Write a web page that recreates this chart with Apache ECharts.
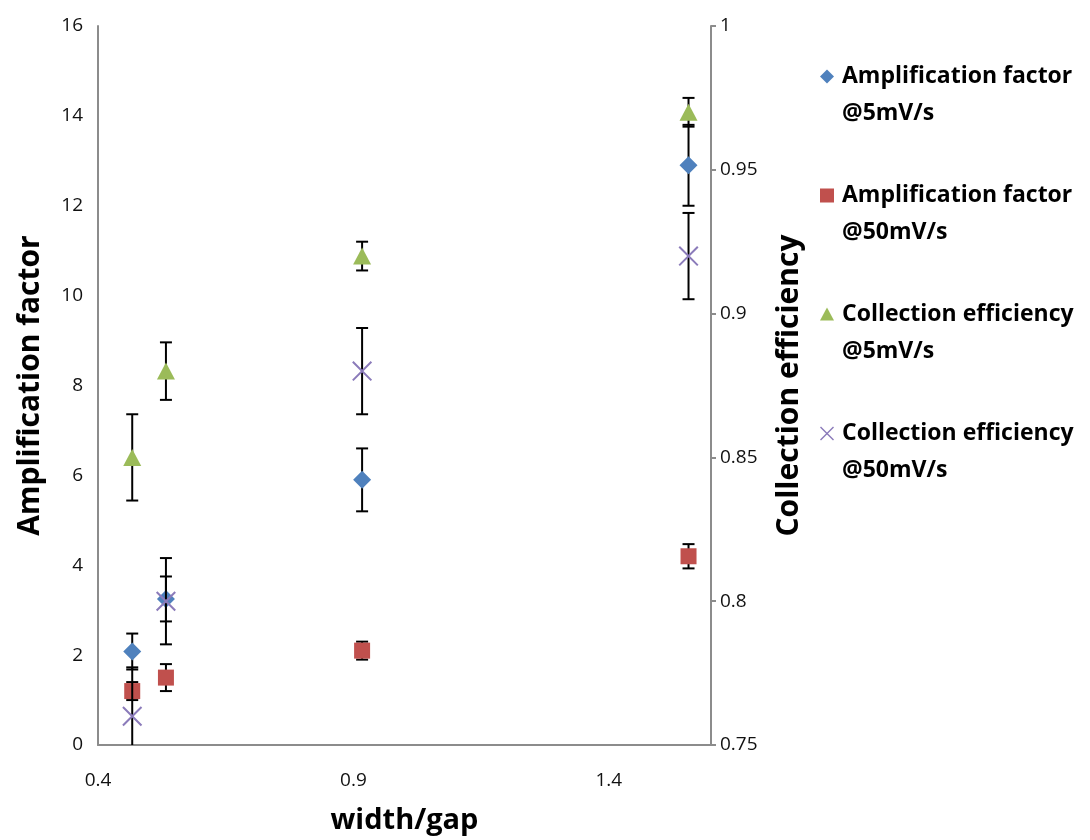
<!DOCTYPE html>
<html>
<head>
<meta charset="utf-8">
<script src="https://cdn.jsdelivr.net/npm/echarts@6/dist/echarts.min.js"></script>
<style>
  html, body { margin: 0; padding: 0; background: #fff; }
  #chart { width: 1090px; height: 840px; }
</style>
</head>
<body>
<div id="chart"></div>
<script>
// width/gap ratios of the electrode geometries
const widthGap = [0.467, 0.533, 0.917, 1.556];

// Amplification factor (left axis) with standard deviations
const amp5 = [2.08, 3.25, 5.9, 12.9];
const amp5Err = [0.4, 0.5, 0.7, 0.9];
const amp50 = [1.2, 1.5, 2.1, 4.2];
const amp50Err = [0.2, 0.3, 0.2, 0.27];

// Collection efficiency (right axis) with standard deviations
const ce5 = [0.85, 0.88, 0.92, 0.97];
const ce5Err = [0.015, 0.01, 0.005, 0.005];
const ce50 = [0.76, 0.80, 0.88, 0.92];
const ce50Err = [0.017, 0.015, 0.015, 0.015];

const seriesNames = [
  'Amplification factor\n@5mV/s',
  'Amplification factor\n@50mV/s',
  'Collection efficiency\n@5mV/s',
  'Collection efficiency\n@50mV/s'
];
const colors = ['#4F81BD', '#C0504D', '#9BBB59', '#8B7BBA'];

const FONT = '"Open Sans", Lato, sans-serif';

// marker outlines (unit boxes)
const shapes = {
  diamond: 'M7,0 L14,7 L7,14 L0,7 Z',
  square: 'M0,0 L14,0 L14,14 L0,14 Z',
  triangle: 'M7,0 L14,13 L0,13 Z',
  cross: 'M0,1 L1,0 L14,13 L13,14 Z M13,0 L14,1 L1,14 L0,13 Z'
};
// legend icon: same outline, pinned to the first text line by invisible anchor points
const legendShape = s => 'path://' + s + ' M-4,51 L-4,51 M17,51 L17,51';

function pairs(xs, ys) { return xs.map((x, i) => [x, ys[i]]); }
function bars(xs, ys, es) { return xs.map((x, i) => [x, ys[i] - es[i], ys[i] + es[i]]); }

function errorBars(params, api) {
  const x = api.value(0);
  const lo = api.coord([x, api.value(1)]);
  const hi = api.coord([x, api.value(2)]);
  const cs = params.coordSys;
  const top = Math.max(hi[1], cs.y);
  const bot = Math.min(lo[1], cs.y + cs.height);
  const half = 6;
  const style = { stroke: '#000', lineWidth: 2 };
  const kids = [{ type: 'line', shape: { x1: lo[0], y1: top, x2: lo[0], y2: bot }, style }];
  if (hi[1] >= cs.y) kids.push({ type: 'line', shape: { x1: lo[0] - half, y1: hi[1], x2: lo[0] + half, y2: hi[1] }, style });
  if (lo[1] <= cs.y + cs.height) kids.push({ type: 'line', shape: { x1: lo[0] - half, y1: lo[1], x2: lo[0] + half, y2: lo[1] }, style });
  return { type: 'group', children: kids };
}

const markerDefs = [
  { name: seriesNames[0], shape: shapes.diamond, size: [18, 18], y: amp5, e: amp5Err, axis: 0 },
  { name: seriesNames[1], shape: shapes.square, size: [16, 16], y: amp50, e: amp50Err, axis: 0 },
  { name: seriesNames[2], shape: shapes.triangle, size: [18, 17], y: ce5, e: ce5Err, axis: 1 },
  { name: seriesNames[3], shape: shapes.cross, size: [20, 20], y: ce50, e: ce50Err, axis: 1 }
];

const series = [];
markerDefs.forEach((d, i) => {
  series.push({
    type: 'custom',
    name: d.name + ' error',
    yAxisIndex: d.axis,
    renderItem: errorBars,
    data: bars(widthGap, d.y, d.e),
    z: 2 + i * 2,
    silent: true
  });
  series.push({
    type: 'scatter',
    name: d.name,
    yAxisIndex: d.axis,
    symbol: 'path://' + d.shape,
    symbolSize: d.size,
    itemStyle: { color: colors[i], opacity: 1 },
    data: pairs(widthGap, d.y),
    z: 3 + i * 2
  });
});

const titleStyle = { fontFamily: FONT, fontSize: 29, fontWeight: 'bold', color: '#000' };
const yTitleStyle = Object.assign({}, titleStyle, { fontSize: 30 });

const chart = echarts.init(document.getElementById('chart'), null, { renderer: 'canvas' });
chart.setOption({
  animation: false,
  backgroundColor: '#fff',
  textStyle: { fontFamily: FONT },
  grid: { left: 98, top: 26, width: 613, height: 724, containLabel: false },
  legend: {
    orient: 'vertical',
    left: 811,
    top: 53,
    itemWidth: 21,
    itemHeight: 51,
    itemGap: 45,
    data: markerDefs.map(d => ({ name: d.name, icon: legendShape(d.shape) })),
    textStyle: { fontFamily: FONT, fontSize: 23, fontWeight: 'bold', color: '#000', lineHeight: 37 }
  },
  xAxis: {
    type: 'value',
    min: 0.4,
    max: 1.6,
    interval: 0.5,
    name: 'width/gap',
    nameLocation: 'middle',
    nameGap: 61,
    nameTextStyle: titleStyle,
    axisLine: { show: true, lineStyle: { color: '#8c8c8c', width: 2 } },
    axisTick: { show: false },
    splitLine: { show: false },
    axisLabel: { margin: 26, fontSize: 19, color: '#111', showMaxLabel: false }
  },
  yAxis: [
    {
      type: 'value',
      min: 0,
      max: 16,
      interval: 2,
      name: 'Amplification factor',
      nameLocation: 'middle',
      nameGap: 53,
      nameTextStyle: yTitleStyle,
      axisLine: { show: true, lineStyle: { color: '#8c8c8c', width: 2 } },
      axisTick: { show: false },
      splitLine: { show: false },
      axisLabel: { margin: 15, fontSize: 19, color: '#111' }
    },
    {
      type: 'value',
      min: 0.75,
      max: 1,
      interval: 0.05,
      position: 'right',
      name: 'Collection efficiency',
      nameLocation: 'middle',
      nameGap: 63,
      nameTextStyle: yTitleStyle,
      axisLine: { show: true, lineStyle: { color: '#8c8c8c', width: 2 } },
      axisTick: { show: true, inside: false, length: 5, lineStyle: { color: '#8c8c8c', width: 2 } },
      splitLine: { show: false },
      axisLabel: { margin: 9, fontSize: 19, color: '#111' }
    }
  ],
  series
});
</script>
</body>
</html>
